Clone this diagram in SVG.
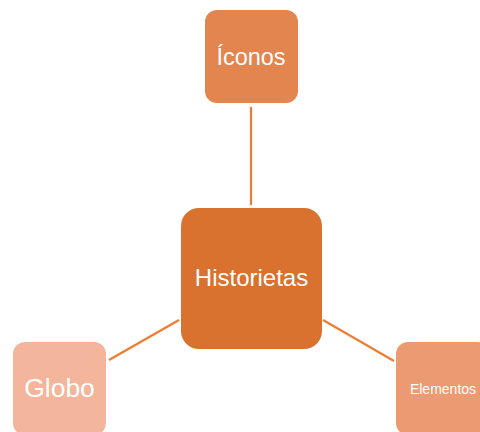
<svg xmlns="http://www.w3.org/2000/svg" width="480" height="432" viewBox="0 0 480 432">
<style>
.t{font-family:"Liberation Sans",Arial,sans-serif;fill:#ffffff;text-anchor:middle}
.c{stroke:#ED7D31;stroke-width:2.2;fill:none}
</style>
<rect width="480" height="432" fill="#ffffff"/>
<g id="connectors">
<line class="c" x1="251" y1="107" x2="251" y2="205"/>
<line class="c" x1="179" y1="320" x2="109" y2="360"/>
<line class="c" x1="323" y1="320" x2="394" y2="361"/>
</g>
<g id="node-historietas">
<rect x="181" y="208" width="141" height="141" rx="18" fill="#D9712F"/>
<text class="t" x="251.5" y="286" font-size="24">Historietas</text>
</g>
<g id="node-iconos">
<rect x="205" y="10" width="93" height="93" rx="12" fill="#E3854F"/>
<text class="t" x="251" y="65" font-size="23.5">Íconos</text>
</g>
<g id="node-globo">
<rect x="13" y="342" width="93" height="93" rx="12" fill="#F3B59B"/>
<text class="t" x="59.5" y="397" font-size="26.5">Globo</text>
</g>
<g id="node-elementos">
<rect x="396" y="342" width="93" height="93" rx="12" fill="#EB9A72"/>
<text class="t" x="443" y="394" font-size="14">Elementos</text>
</g>
</svg>
